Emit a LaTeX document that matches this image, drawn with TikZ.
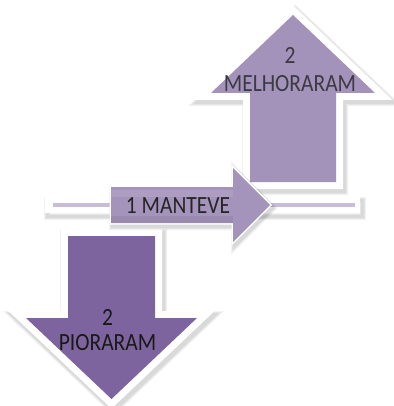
\documentclass[tikz,border=0pt]{standalone}
\usepackage{fontspec}
\usepackage{graphicx}
\setmainfont{Carlito}
\definecolor{upfill}{HTML}{A392B9}
\definecolor{downfill}{HTML}{7E649E}
\definecolor{keepfill}{HTML}{9885B2}
\definecolor{barline}{HTML}{C8BDD9}
\definecolor{labelgray}{HTML}{3C3A44}
\tikzset{
  softshadow/.style={draw=black, opacity=0.05, line join=miter, shift={(2,3)}},
  whiteframe/.style={draw=white, fill=white, line join=miter},
  lbl/.style={inner sep=0pt, align=center},
}
% labels are set slightly taller than the font's natural shape
\newcommand{\tall}[1]{\scalebox{1}[1.15]{#1}}
\begin{document}
\begin{tikzpicture}[x=1pt, y=-1pt]
\useasboundingbox (0,0) rectangle (393,406);
\fill[white] (0,0) rectangle (393,406);

% outlines of the three arrows and the baseline bar
\def\uparrowpath{(293,15) -- (375,93) -- (336,93) -- (336,182) -- (250,182) -- (250,93) -- (211,93) -- cycle}
\def\downarrowpath{(68,236) -- (155,236) -- (155,318) -- (197,318) -- (111.5,399) -- (26,318) -- (68,318) -- cycle}
\def\barpath{(45,197) rectangle (360,213)}
\def\keeparrowpath{(111,187) -- (233,187) -- (233,168) -- (270,205) -- (233,242) -- (233,223) -- (111,223) -- cycle}

% up arrow
\foreach \w in {20,18,16} \draw[softshadow, line width=\w] \uparrowpath;
\path[whiteframe, line width=14] \uparrowpath;
\fill[upfill] \uparrowpath;

% down arrow
\foreach \w in {20,18,16} \draw[softshadow, line width=\w] \downarrowpath;
\path[whiteframe, line width=14] \downarrowpath;
\fill[downfill] \downarrowpath;

% baseline bar
\foreach \w in {7,5,3} \draw[softshadow, line width=\w] \barpath;
\fill[white] \barpath;
\fill[barline] (53,203) rectangle (355,207);

% right arrow
\foreach \w in {8,6,4} \draw[softshadow, line width=\w] \keeparrowpath;
\path[whiteframe, line width=3] \keeparrowpath;
\fill[keepfill, opacity=0.88] \keeparrowpath;
\fill[white, opacity=0.10] (111,190) rectangle (233,197);
\fill[black, opacity=0.06] (111,216) rectangle (233,223);

% labels
\node[lbl, text=labelgray, font=\fontsize{21.5}{28}\selectfont] (up) at (290,70) {\tall{2}\\\tall{MELHORARAM}};
\node[lbl, text=black!85, font=\fontsize{21.5}{24}\selectfont] (keep) at (178,206) {\tall{1 MANTEVE}};
\node[lbl, text=black!90, font=\fontsize{21.5}{25}\selectfont] (down) at (107.5,330) {\tall{2}\\\tall{PIORARAM}};
\end{tikzpicture}
\end{document}
